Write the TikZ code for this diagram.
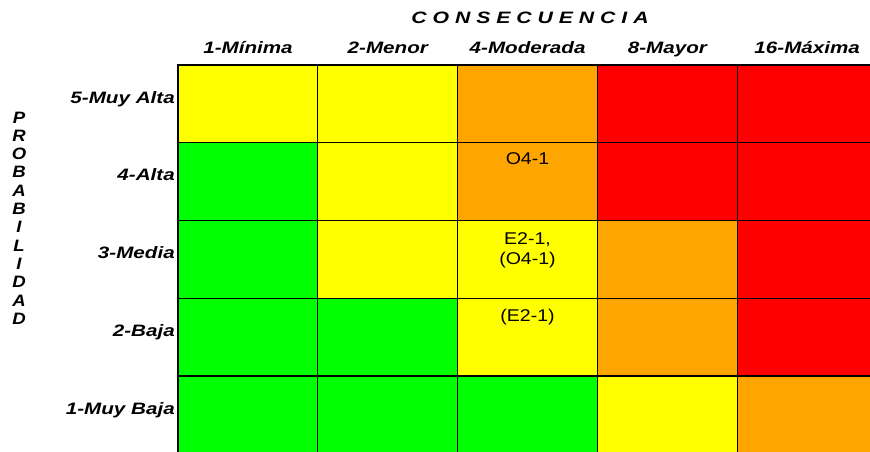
\documentclass[tikz,border=0pt]{standalone}
\usepackage{fontspec}
\setmainfont{Liberation Sans}
\usetikzlibrary{positioning}
\definecolor{rgreen}{HTML}{00FF00}
\definecolor{ryellow}{HTML}{FFFF00}
\definecolor{rorange}{HTML}{FFA500}
\definecolor{rred}{HTML}{FF0000}

\begin{document}
\begin{tikzpicture}[
    x=1pt,y=-1pt,
    cell/.style={draw,line width=1.2pt,anchor=north west,minimum width=139.8pt,
      minimum height=77.75pt,inner sep=0pt,outer sep=0pt},
    head/.style={font=\fontsize{16.5}{18.3}\selectfont\bfseries\itshape,
      inner sep=0pt,transform shape,xscale=1.25},
    ctext/.style={font=\fontsize{17}{20}\selectfont,align=center,
      inner sep=0pt,transform shape,xscale=1.15},
  ]

  \useasboundingbox (0,0) rectangle (870,451);
  \clip (0,0) rectangle (870,451);

  % matrix cells, top row first
  \foreach \clist [count=\r] in {
      {ryellow,ryellow,rorange,rred,rred},
      {rgreen,ryellow,rorange,rred,rred},
      {rgreen,ryellow,ryellow,rorange,rred},
      {rgreen,rgreen,ryellow,rorange,rred},
      {rgreen,rgreen,rgreen,ryellow,rorange}}
    \foreach \col [count=\c] in \clist
      \node[cell,fill=\col] (c-\r-\c) at ({178+139.8*(\c-1)},{65+77.75*(\r-1)}) {};

  % axis titles
  \node[head,anchor=base,xscale=1.03] (cons) at (530,23) {C O N S E C U E N C I A};
  \node[head,align=center,xscale=0.9] (prob) at (19,218)
    {P\\R\\O\\B\\A\\B\\I\\L\\I\\D\\A\\D};

  % column headers
  \foreach \txt [count=\c] in {1-Mínima,2-Menor,4-Moderada,8-Mayor,16-Máxima}
    \node[head,anchor=base] (h-\c) at ({248+139.8*(\c-1)},53) {\txt};

  % row labels
  \foreach \txt [count=\r] in {5-Muy Alta,4-Alta,3-Media,2-Baja,1-Muy Baja}
    \node[head,anchor=base east] (l-\r) at ({175},{103+77.75*(\r-1)}) {\txt};

  % risks in the cells
  \node[ctext,below=10pt of c-2-3.north] (o41) {O4-1};
  \node[ctext,below=12pt of c-3-3.north] (e21) {E2-1,\\(O4-1)};
  \node[ctext,below=11pt of c-4-3.north] (e21b) {(E2-1)};
\end{tikzpicture}
\end{document}
